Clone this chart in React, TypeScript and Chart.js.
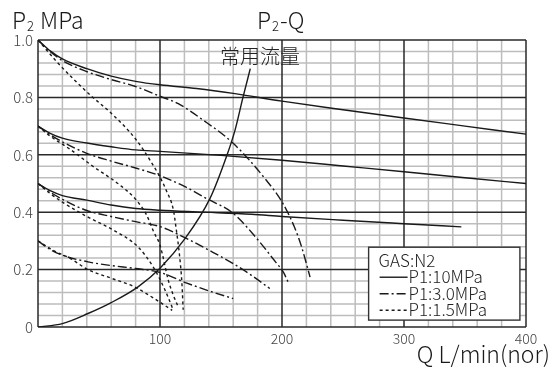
import React, { useEffect, useRef } from "react";
import { Chart, registerables } from "chart.js";

Chart.register(...registerables);

const FONT = '"Noto Sans CJK JP", "Noto Sans", sans-serif';

// ---- data (Q in L/min(nor), P2 in MPa) ----
// P1: 10 MPa (solid)
const p10From100: number[][] = [[0, 1.0], [10, 0.962], [20, 0.934], [40, 0.9], [60, 0.874], [80, 0.856], [100, 0.844], [130, 0.831], [160, 0.814], [200, 0.787], [250, 0.757], [300, 0.728], [350, 0.7], [400, 0.672]];
const p10From70: number[][] = [[0, 0.7], [10, 0.675], [20, 0.658], [40, 0.641], [60, 0.628], [80, 0.617], [100, 0.612], [150, 0.598], [200, 0.581], [250, 0.561], [300, 0.541], [350, 0.52], [400, 0.5]];
const p10From50: number[][] = [[0, 0.5], [10, 0.475], [20, 0.458], [40, 0.442], [60, 0.425], [80, 0.413], [100, 0.407], [130, 0.401], [175, 0.393], [200, 0.385], [250, 0.372], [300, 0.36], [347, 0.349]];
// P1: 3.0 MPa (dash-dot)
const p30From100: number[][] = [[0, 1.0], [10, 0.96], [20, 0.928], [40, 0.89], [60, 0.862], [80, 0.838], [100, 0.804], [115, 0.778], [135, 0.722], [160, 0.64], [187, 0.512], [200, 0.436], [210, 0.35], [216, 0.28], [223, 0.174]];
const p30From70: number[][] = [[0, 0.7], [10, 0.67], [20, 0.645], [40, 0.605], [60, 0.578], [80, 0.554], [100, 0.527], [120, 0.49], [138, 0.448], [160, 0.396], [180, 0.305], [195, 0.225], [201, 0.192], [205, 0.157]];
const p30From50: number[][] = [[0, 0.5], [10, 0.47], [20, 0.445], [40, 0.406], [60, 0.385], [80, 0.367], [100, 0.35], [122, 0.308], [140, 0.268], [160, 0.221], [175, 0.18], [190, 0.134]];
const p30From30: number[][] = [[0, 0.3], [10, 0.27], [20, 0.25], [41, 0.227], [60, 0.214], [80, 0.204], [100, 0.19], [122, 0.153], [140, 0.126], [160, 0.099]];
// P1: 1.5 MPa (dotted)
const p15From100: number[][] = [[0, 1.0], [15, 0.926], [30, 0.86], [45, 0.8], [60, 0.745], [80, 0.655], [92, 0.58], [100, 0.522], [105, 0.477], [111, 0.407], [113, 0.35], [116, 0.25], [118, 0.15], [119, 0.06]];
const p15From70: number[][] = [[0, 0.7], [10, 0.665], [25, 0.623], [45, 0.56], [67, 0.495], [80, 0.445], [89, 0.39], [95, 0.33], [100, 0.285], [107, 0.16], [111, 0.11], [115, 0.07]];
const p15From50: number[][] = [[0, 0.5], [10, 0.465], [20, 0.435], [40, 0.385], [62, 0.337], [82, 0.279], [95, 0.205], [104, 0.13], [111, 0.058]];
const p15From30: number[][] = [[0, 0.3], [12, 0.268], [26, 0.24], [41, 0.2], [60, 0.17], [79, 0.14], [95, 0.1], [104, 0.075], [110, 0.058]];
// 常用流量 curve
const normalFlow: number[][] = [[0, 0], [20, 0.012], [41, 0.047], [60, 0.085], [82, 0.14], [100, 0.205], [120, 0.305], [141, 0.448], [155, 0.6], [161.5, 0.686], [168, 0.8], [174, 0.9]];

const xMax = 400;
const yMax = 1.0;
const xMinorStep = 20;
const xMajorStep = 100;
const yMinorStep = 0.04;
const yMajorStep = 0.2;

const legendTitle = "GAS:N2";
const legendLabels = ["P1:10MPa", "P1:3.0MPa", "P1:1.5MPa"];
const solidDash: number[] = [];
const dashDot = [9, 3, 2, 3];
const dotted = [3, 3];
const legendDashes = [solidDash, dashDot, dotted];

const LINE = "#1a1a1a";

const toXY = (arr: number[][]) => arr.map(([x, y]) => ({ x, y }));

const gridPlugin = {
  id: "customGrid",
  beforeDatasetsDraw(chart: any) {
    const { ctx, chartArea, scales } = chart;
    const { left, right, top, bottom } = chartArea;
    const xs = scales.x;
    const ys = scales.y;
    ctx.save();
    ctx.strokeStyle = "#bdbdbd";
    ctx.lineWidth = 1.5;
    ctx.beginPath();
    for (let v = xMinorStep; v < xMax; v += xMinorStep) {
      if (v % xMajorStep === 0) continue;
      const p = xs.getPixelForValue(v);
      ctx.moveTo(p, top);
      ctx.lineTo(p, bottom);
    }
    for (let i = 1; i * yMinorStep < yMax - 1e-9; i++) {
      const v = i * yMinorStep;
      if (Math.abs(v / yMajorStep - Math.round(v / yMajorStep)) < 1e-6) continue;
      const p = ys.getPixelForValue(v);
      ctx.moveTo(left, p);
      ctx.lineTo(right, p);
    }
    ctx.stroke();
    ctx.strokeStyle = "#2a2a2a";
    ctx.lineWidth = 1.5;
    ctx.beginPath();
    for (let v = 0; v <= xMax; v += xMajorStep) {
      const p = xs.getPixelForValue(v);
      ctx.moveTo(p, top);
      ctx.lineTo(p, bottom);
    }
    for (let i = 0; i * yMajorStep <= yMax + 1e-9; i++) {
      const p = ys.getPixelForValue(i * yMajorStep);
      ctx.moveTo(left, p);
      ctx.lineTo(right, p);
    }
    ctx.stroke();
    ctx.restore();
  },
};

const overlayPlugin = {
  id: "overlay",
  afterDatasetsDraw(chart: any) {
    const { ctx, scales } = chart;
    const xs = scales.x;
    const ys = scales.y;
    ctx.save();
    const bx0 = xs.getPixelForValue(271);
    const bx1 = xs.getPixelForValue(395);
    const by0 = ys.getPixelForValue(0.278);
    const by1 = ys.getPixelForValue(0.024);
    ctx.fillStyle = "#ffffff";
    ctx.fillRect(bx0, by0, bx1 - bx0, by1 - by0);
    ctx.strokeStyle = "#333";
    ctx.lineWidth = 1.4;
    ctx.strokeRect(bx0, by0, bx1 - bx0, by1 - by0);
    ctx.fillStyle = "#222";
    ctx.font = `300 17px ${FONT}`;
    ctx.textAlign = "left";
    ctx.textBaseline = "alphabetic";
    ctx.fillText(legendTitle, bx0 + 10, by0 + 20);
    legendLabels.forEach((lab, i) => {
      const base = by0 + 36 + i * 16.5;
      ctx.fillText(lab, bx0 + 40, base);
      ctx.beginPath();
      ctx.setLineDash(legendDashes[i]);
      ctx.lineWidth = 1.4;
      ctx.strokeStyle = LINE;
      ctx.moveTo(bx0 + 11, base - 6);
      ctx.lineTo(bx0 + 39, base - 6);
      ctx.stroke();
    });
    ctx.setLineDash([]);
    ctx.fillStyle = "#222";
    ctx.font = `300 20px ${FONT}`;
    ctx.textAlign = "center";
    ctx.fillText("常用流量", 260, 64);
    ctx.restore();
  },
  afterDraw(chart: any) {
    const { ctx } = chart;
    ctx.save();
    ctx.fillStyle = "#1a1a1a";
    ctx.textBaseline = "alphabetic";
    ctx.textAlign = "left";
    // P2 MPa
    ctx.font = `300 23px ${FONT}`;
    ctx.fillText("P", 12, 29);
    let w = ctx.measureText("P").width;
    ctx.font = `300 13px ${FONT}`;
    ctx.fillText("2", 12 + w + 1, 31);
    const w2 = ctx.measureText("2").width;
    ctx.font = `300 23px ${FONT}`;
    ctx.fillText("MPa", 12 + w + w2 + 7, 29);
    // P2-Q
    ctx.fillText("P", 257, 29);
    w = ctx.measureText("P").width;
    ctx.font = `300 13px ${FONT}`;
    ctx.fillText("2", 257 + w + 1, 31);
    ctx.font = `300 23px ${FONT}`;
    ctx.fillText("-Q", 257 + w + w2 + 2, 29);
    // x axis title
    ctx.font = `300 23px ${FONT}`;
    ctx.textAlign = "right";
    ctx.fillText("Q L/min(nor)", 550, 363);
    ctx.restore();
  },
};

export default function App() {
  const ref = useRef<HTMLCanvasElement | null>(null);

  useEffect(() => {
    if (!ref.current) return;
    const mk = (data: number[][], dash: number[]) => ({
      data: toXY(data),
      borderColor: LINE,
      borderWidth: 1.4,
      borderDash: dash,
      pointRadius: 0,
      fill: false,
      cubicInterpolationMode: "monotone" as const,
    });
    const chart = new Chart(ref.current, {
      type: "line",
      data: {
        datasets: [
          mk(p10From100, solidDash),
          mk(p10From70, solidDash),
          mk(p10From50, solidDash),
          mk(p30From100, dashDot),
          mk(p30From70, dashDot),
          mk(p30From50, dashDot),
          mk(p30From30, dashDot),
          mk(p15From100, dotted),
          mk(p15From70, dotted),
          mk(p15From50, dotted),
          mk(p15From30, dotted),
          mk(normalFlow, solidDash),
        ],
      },
      options: {
        animation: false,
        responsive: false,
        devicePixelRatio: 1,
        layout: { padding: { left: 0, top: 40, right: 32, bottom: 0 } },
        plugins: { legend: { display: false }, tooltip: { enabled: false } },
        scales: {
          x: {
            type: "linear",
            min: 0,
            max: xMax,
            afterFit: (s: any) => {
              s.height = 50;
            },
            grid: { display: false, drawTicks: false },
            border: { display: false },
            ticks: {
              stepSize: xMajorStep,
              padding: 3,
              color: "#444",
              font: { family: FONT, size: 14, weight: "300" },
              maxRotation: 0,
              callback: (v: any) => (Number(v) === 0 ? "" : String(v)),
            },
          },
          y: {
            type: "linear",
            min: 0,
            max: yMax,
            afterFit: (s: any) => {
              s.width = 38;
            },
            grid: { display: false, drawTicks: false },
            border: { display: false },
            ticks: {
              stepSize: yMajorStep,
              padding: 5,
              color: "#444",
              font: { family: FONT, size: 15, weight: "300" },
              callback: (v: any) => (Number(v) === 0 ? "0" : Number(v).toFixed(1)),
            },
          },
        },
      },
      plugins: [gridPlugin, overlayPlugin],
    });
    return () => chart.destroy();
  }, []);

  return (
    <div style={{ position: "absolute", left: 0, top: 0, width: 558, height: 377, background: "#fff" }}>
      <canvas ref={ref} width={558} height={377} style={{ display: "block", width: 558, height: 377 }} />
    </div>
  );
}
